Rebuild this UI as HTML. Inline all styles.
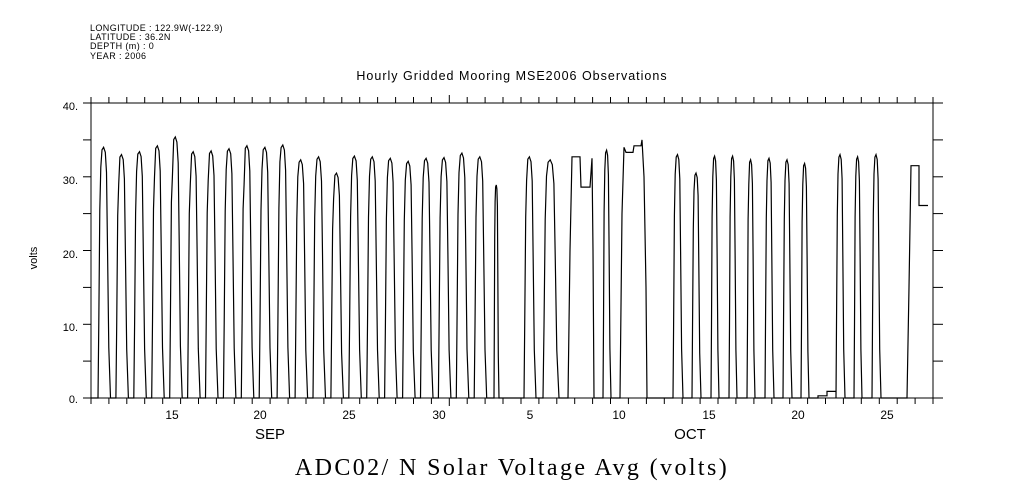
<!DOCTYPE html>
<html><head><meta charset="utf-8"><style>
html,body{margin:0;padding:0;background:#fff;}
svg{display:block;}
</style></head><body>
<svg id="s" width="1009" height="504" xmlns="http://www.w3.org/2000/svg" font-family="Liberation Sans, sans-serif">
<rect width="1009" height="504" fill="#fff"/>
<g font-size="9" fill="#000" letter-spacing="0.4">
<text x="90" y="31">LONGITUDE : 122.9W(-122.9)</text>
<text x="90" y="40">LATITUDE : 36.2N</text>
<text x="90" y="49">DEPTH (m) : 0</text>
<text x="90" y="59">YEAR : 2006</text>
</g>
<text x="512" y="80" font-size="12.5" letter-spacing="1" text-anchor="middle">Hourly Gridded Mooring MSE2006 Observations</text>
<text transform="translate(37,258) rotate(-90)" font-size="11" text-anchor="middle">volts</text>
<g font-size="11" text-anchor="end">
<text x="78" y="110">40.</text><text x="78" y="184">30.</text><text x="78" y="258">20.</text><text x="78" y="331">10.</text><text x="78" y="403">0.</text>
</g>
<g font-size="12" text-anchor="middle">
<text x="172" y="419">15</text><text x="260" y="419">20</text><text x="349" y="419">25</text><text x="439" y="419">30</text>
<text x="530" y="419">5</text><text x="619" y="419">10</text><text x="709" y="419">15</text><text x="798" y="419">20</text><text x="887" y="419">25</text>
<text x="270" y="439" font-size="15">SEP</text><text x="690" y="439" font-size="15">OCT</text>
</g>
<text x="512" y="475" font-size="24" letter-spacing="2.4" text-anchor="middle" font-family="Liberation Serif, serif">ADC02/ N Solar Voltage Avg (volts)</text>
<g id="ax" stroke="#000" stroke-width="1" fill="none"></g>
<path id="d" stroke="#000" stroke-width="1.2" fill="none"/>
</svg>
<script>
var ax=document.getElementById('ax'),h='';
var X0=91,X1=933,Y0=103,Y1=398,D=17.915;
function Y(v){return Y1-v*7.375;}
h+='<rect x="91" y="103" width="842" height="295"/>';
for(var i=0;i<=47;i++){var x=(X0+i*D).toFixed(1);
 var L=(i==20)?8:6;
 h+='<line x1="'+x+'" y1="103" x2="'+x+'" y2="'+(103-L)+'"/>';
 h+='<line x1="'+x+'" y1="398" x2="'+x+'" y2="'+(398+L)+'"/>';}
for(var v=0;v<=40;v+=5){var y=Y(v).toFixed(1);
 h+='<line x1="83" y1="'+y+'" x2="91" y2="'+y+'"/>';
 h+='<line x1="933" y1="'+y+'" x2="943" y2="'+y+'"/>';}
ax.innerHTML=h;
var P=[[91,0]];
function pulse(xr,xf,pk,dip){var w=xf-xr;
 var f=[[0,0],[0.06,0.3],[0.14,0.75],[0.22,0.92],[0.32,0.99],[0.45,1],[0.58,0.98],[0.68,0.9],[0.76,0.6],[0.86,0.2],[1,0]];
 for(var k=0;k<f.length;k++){var v=f[k][1]*pk;
  if(dip&&k==3)v=dip; P.push([xr+f[k][0]*w,v]);}
}
var pk=[34,33,33.4,34.2,35.4,33.4,33.5,33.8,34.2,34,34.3,32.3,32.7,30.5,32.8,32.7,32.5,32.1,32.5,32.6,33.2,32.7];
var dp=[0,29,0,30,30,29,29.5,31,29,31,32,30,0,27,0,0,0,0,0,0,0,0];
for(var i=0;i<pk.length;i++){var xr=98+D*i;pulse(xr,xr+12.5,pk[i],dp[i]);}
pulse(494,499,28.9);
pulse(524,536,32.7,29.5);
pulse(543,559,32.3,30.1);
P.push([568,0],[570,20],[572,32.7],[580,32.7],[581,28.6],[590,28.6],[592,32.5],[593,20],[594,0]);
pulse(603,611,33.6);
P.push([620,0],[622,25],[624,34],[626,33.3],[633,33.3],[634,34.2],[641,34.2],[642,35],[644,30],[646,15],[647,0]);
pulse(673,683,33);
pulse(692,701,30.5);
pulse(711,719,32.8,30);
pulse(729,737,32.8,30);
pulse(747,755,32.3,29);
pulse(765,774,32.5,29.5);
pulse(783,792,32.3,29.5);
pulse(801,809,31.8,29);
P.push([818,0],[818,0.3],[827,0.3],[827,0.9],[836,0.9]);
pulse(836,845,33);
pulse(854,862,32.7);
pulse(872,881,33);
P.push([907,0],[909,15],[911,31.5],[919,31.5],[919,26.1],[928,26.1]);
var s='';for(var k=0;k<P.length;k++){s+=(k?'L':'M')+P[k][0].toFixed(1)+' '+Y(P[k][1]).toFixed(1);}
document.getElementById('d').setAttribute('d',s);
</script>
</body></html>
